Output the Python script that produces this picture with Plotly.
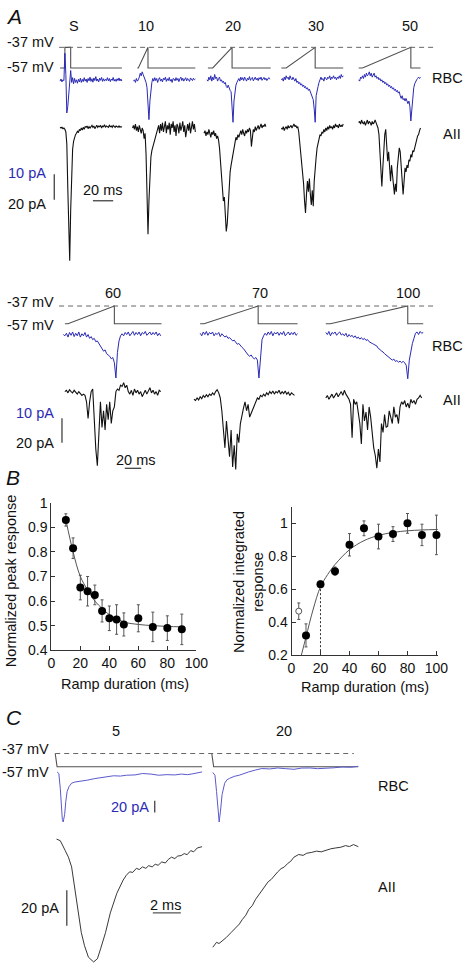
import plotly.graph_objects as go

W, H = 476, 972
FONT = "Liberation Sans, Arial, Helvetica, sans-serif"
BLUE = "#2a2ab4"
BLUE_C = "#5a5acd"
BLACK = "#111111"
CMD = "#505050"
AXC = "#333333"

# ======================= DATA =======================
# ---- Panel A, top row: ramp durations ----
A1_LABELS = ["S", "10", "20", "30", "50"]
DT1 = 1.0  # ms between samples in the top-row traces

cmd_S_t = [0, 5, 5, 11, 11, 64]
cmd_S_mv = [-57, -57, -37, -37, -57, -57]
cmd_10_t = [0, 1, 11, 11, 60]
cmd_10_mv = [-57, -57, -37, -57, -57]
cmd_20_t = [0, 5, 25, 25, 65]
cmd_20_mv = [-57, -57, -37, -57, -57]
cmd_30_t = [0, 5, 35, 35, 64]
cmd_30_mv = [-57, -57, -37, -57, -57]
cmd_50_t = [0, 4, 54, 54, 64]
cmd_50_mv = [-57, -57, -37, -57, -57]

rbc_S_t0 = 0
rbc_S = [-0.5, 0.3, -0.8, 0, -0.3, 10, 2, -12.5, -10, -4, 1, 3.5, -1, 0.8, -1.5, 0.5, -1, 0, -1.3, 0.2,
         -0.8, 0.6, -1, 0.2, -0.7, 0.8, -0.5, 0.3, -1, 0.5, -0.4, 1, -0.6, 0.4, -0.9, 0.7, -0.3, 1.2, -0.5, 0.3,
         -0.8, 0.6, -0.2, 0.9, -0.6, 0.4, -0.5, 0.2, -0.3, 0.8, -0.4, 0.5, -0.7, 0.3, -0.2, 0.9, -0.5, 0.2, -0.6, 0.4,
         -0.3, 0.7, -0.4, 0.3, -0.5]
aii_S_t0 = 0
aii_S = [0.5, 0, 0.5, -0.5, 0, -1, -3, -12, -45, -88, -100, -62, -30, -16, -10, -7, -5, -4, -2.5, -3.5,
         -1, -2, 0, -1.5, 0.5, -1, 1, 0.5, 1.5, -0.5, 1, 0, 1.5, 2, 0.5, 1.5, -0.5, 1, 2, 0.5,
         1.5, 1, 2, 0, 1.5, 1, 2.5, 0.5, 1.5, 1, 0.5, 2, 1, 1.5, 0.5, 2, 1, 0.5, 1.5, 1,
         0.5, 1.5, 0.5, 1, 0.5]

rbc_10_t0 = -4
rbc_10 = [-0.5, 0, -1, 0.5, -0.5, 0, 1, 2.5, 1.5, 3, 2, 1, 0, -1, -3, -8, -15, -8, -3, -1,
          0.5, -0.5, 0.8, -0.3, 0.5, -1, 0.2, 0.8, -0.5, 0.3, -0.8, 0.6, 0, 1, -0.6, 0.4, -0.3, 0.9, -0.5, 0.2,
          -1, 0.5, 0.3, -0.4, 0.8, -0.2, 0.5, -0.7, 0.4, 1, -0.3, 0.6, -0.5, 0.2, 0.8, -0.4, 0.5, 0, -0.6, 0.7,
          0.2, -0.3, 0.6, 0, 0.3]
aii_10_t0 = -5
aii_10 = [0, 2, -1, 3, -2, 1, -3, 2, -1, -4, 0, -2, -8, -4, -20, -60, -80, -55, -30, -22,
          -17, -14, -12, -9, -7, -3, -1, 2, -4, 3, -2, 4, -3, 1, 5, -4, 2, -1, 4, -5,
          3, 0, 5, -3, 2, -6, 3, 1, -4, 4, -2, 1, 5, -3, 2, -7, 0, 3, -2, 4,
          -4, 1, 5, -1, 3, -3]

rbc_20_t0 = -1
rbc_20 = [0, -0.5, 1, 0, 1.5, -0.5, 1, 0, 2, 0.5, 1, -0.5, 0.5, 1, -0.5, 0, -1, -0.5, -1.5, -1,
          -2.5, -3, -2, -3.5, -4, -4.5, -9, -16, -8, -4, -2, -1, 0, 0.5, -0.5, 1, 0, 0.8, -0.3, 1,
          0.2, -0.5, 0.6, 0, 1.2, -0.2, 0.5, 0.9, -0.4, 0.3, 1, 0, 0.6, -0.3, 0.8, 0.2, 1, -0.2, 0.5, 0.9,
          0, 0.6, -0.3, 0.4, 0.8, 0.2]
aii_20_t0 = -4
aii_20 = [-4, -2, -6, -3, -5, -1, -4, -7, -3, -5, -2, -6, -4, -8, -6, -9, -15, -25, -35, -45,
          -55, -52, -67, -78, -72, -58, -40, -33, -28, -24, -20, -14, -10, -7, -9, -5, -7, -4, -2, -5,
          -1, -4, -6, -2, -4, -1, -3, 0, -2, -14, -4, -1, -3, 1, -2, 0, 2, -1, 1, 3,
          0, 2, 1, 3, 1]

rbc_30_t0 = 0
rbc_30 = [0, 0.5, -0.5, 1, 0, 1.5, 0.5, 1, 0, 1.5, 0.5, 0, 1, 0, -0.5, 0.5, -1, -0.5, -1.5, -1,
          -2, -1.5, -2.5, -2, -3, -2.5, -3.5, -3, -4, -3.5, -4.5, -5, -6, -7.5, -11, -16, -6, -3.5, -2.5, -1,
          0, 1, 0, 0.5, -0.5, 1, 0.5, 0, 1, 0.5, 1.5, 0, 1, 0.5, 1.5, 0.5, 1, 0, 1, 0.5,
          1.5, 0.5, 2, 1, 1.5]
aii_30_t0 = 0
aii_30 = [0, -1, 1, -2, 0, 1, -1, 2, 0, 1, 2, 0, 2, 3, 1, 2, 0, 1, -3, -10,
          -18, -27, -30, -42, -55, -64, -50, -40, -48, -38, -50, -58, -47, -59, -40, -28, -22, -15, -12, -8,
          -5, -6, -3, -4, -1, -3, 0, -2, 1, -1, 2, 0, 1, -1, 2, 0, 3, 1, 2, 0,
          3, 1, 2, 1, 3]

rbc_50_t0 = 0
rbc_50 = [0, -0.5, 1, 0.5, 1.5, 0.5, 2, 1, 2.5, 1.5, 2, 3, 1.5, 2.5, 1, 2, 2.5, 1, 1.5, 0.5,
          1, 0, 0.5, -0.5, 0, -1, -0.5, -1.5, -1, -2, -1.5, -2.5, -2, -3, -2.5, -3.5, -3, -4, -3.5, -4.5,
          -4, -5, -4.5, -6, -7, -6, -7.5, -7, -8, -7, -8.5, -9, -8, -10, -15.5, -11, -6, -3, -1.5, -0.5,
          0, 0.5, 1, 0.5, 1]
aii_50_t0 = 0
aii_50 = [4, 5, 3, 6, 4, 3, 5, 2, 4, 6, 3, 5, 4, 2, 5, 3, 4, 6, 4, 2,
          0, -5, -20, -35, -44, -30, -15, -5, -1, -12, -25, -18, -30, -40, -28, -35, -45, -50, -42, -48,
          -30, -20, -15, -18, -30, -42, -50, -40, -30, -33, -28, -30, -24, -25, -20, -22, -17, -18, -14, -12,
          -9, -6, -5, -2, 0]

# ---- Panel A, second row ----
A2_LABELS = ["60", "70", "100"]
DT2 = 2.0  # ms between samples in the second-row traces

cmd_60_t = [0, 4, 64, 64, 125]
cmd_60_mv = [-57, -57, -37, -57, -57]
cmd_70_t = [0, 5, 75, 75, 126]
cmd_70_mv = [-57, -57, -37, -57, -57]
cmd_100_t = [0, 6, 106, 106, 126]
cmd_100_mv = [-57, -57, -37, -57, -57]

rbc_60_t0 = -2
rbc_60 = [0, -0.5, 0.5, -1, 0.8, -0.3, 1, -0.8, 0.5, -0.5, 1, -1, 0.3, -0.5, 0.8, -1, 0, -1.5, -0.8, -2,
          -1.5, -2.8, -2.5, -3.5, -4.5, -5.5, -6.5, -6, -7.5, -8, -8.5, -9.5, -9, -11, -17, -7, -2.5, -0.5, 0.3, -0.5,
          0.8, 0, 1, -0.5, 0.5, 1.2, -0.3, 0.8, 0, 1, -0.5, 0.8, 0.2, 1.2, -0.3, 0.5, 1, -0.2, 0.8, 0,
          1, -0.5, 0.5, -0.5]
aii_60_t0 = 0
aii_60 = [0, 1, -1, 1.5, 0, -1, 1, -0.5, -2, 0, -1.5, -3, -2, -3, -8, -21, -8, 0, 2, -25,
          -45, -58, -30, -8, -28, -15, -30, -10, -22, -8, -25, -15, -12, 0, 2, 1, 5, 4, 7, 3,
          5, 0, -2, 1, -3, 2, -1, 1, -2, 0, -4, -1, 1, -2, 0, 3, -1, 1, -2, 0,
          -3, 1, 0]

rbc_70_t0 = 0
rbc_70 = [0.5, -0.5, 1, 0, 1.2, -0.3, 0.8, 0.2, 1, -0.5, 0.5, 0, 0.8, -0.8, 0.3, -0.5, -1, -0.5, -1.5, -1.2,
          -2, -2.5, -2.2, -3, -3.8, -3.5, -4.5, -5, -5.5, -6.5, -7, -8, -8.5, -8, -9, -9.5, -9, -10, -17, -8,
          -2, -0.5, 0.5, -0.3, 1, 0, 1.2, -0.5, 0.8, 0.2, 1, -0.3, 0.8, 0, 1.2, -0.5, 0.5, 1, -0.2, 0.8,
          0, 1, -0.3, 0.3]
aii_70_t0 = -8
aii_70 = [-6, -7, -5, -6.5, -4, -5.5, -3, -4.5, -2.5, -4, -2, -3, -1, -2.5, 0, 1.5, -1, -5, -15, -28,
          -44, -23, -40, -51, -30, -59, -42, -61, -33, -40, -25, -18, -13, -8, -15, -10, -20, -17, -14, -10,
          -8, -5, -6, -3, -4, -2, -3.5, -1, -2.5, 0, -1.5, 0.5, -2, 0, -1, 1, -2, 0, -1.5, 0.5,
          -2, -0.5, -3, -1, -2, -3]

rbc_100_t0 = 0
rbc_100 = [0.8, 0, 1.2, -0.5, 0.8, 0.3, 1, -0.3, 0.5, 1, -0.2, 0.3, -0.5, 0.5, -1, 0, -0.8, -0.3, -1.2, -0.5,
           -1.5, -1, -1.8, -1.2, -2, -1.5, -2.3, -2, -2.8, -3, -3.5, -3.8, -4.2, -4.5, -5.5, -5.8, -6.5, -6.8, -7.5, -8,
           -8.2, -9, -9.5, -10, -9.6, -10.5, -10.2, -10.8, -10.4, -11, -10.5, -11, -12, -17.3, -10, -6.5, -3.5, -1.5, 0.5, 1,
           0, 1.2, 0.5, 0.8]
aii_100_t0 = 0
aii_100 = [-5, -3, -6, -4, -2, -5, -3, -1, -4, -2, 0, -3, 1, -2, -4, -6, -10, -36, -6, -10,
           -8, -15, -25, -41, -10, -23, -16, -30, -12, -20, -35, -44, -50, -60, -45, -55, -25, -32, -18, -28,
           -27, -15, -20, -25, -12, -20, -18, -25, -12, -8, -10, -7, -12, -9, -13, -6, -9, -7, -10, -6,
           -5, -3, -5]

# ---- Panel B ----
dur_peak = [10, 15, 20, 25, 30, 35, 40, 45, 50, 60, 70, 80, 90]
peak_mean = [0.93, 0.815, 0.655, 0.64, 0.625, 0.56, 0.53, 0.525, 0.505, 0.53, 0.495, 0.49, 0.485]
peak_err = [0.025, 0.042, 0.05, 0.06, 0.04, 0.045, 0.05, 0.06, 0.047, 0.055, 0.06, 0.05, 0.062]
peak_fit_x = [10, 15, 20, 25, 30, 35, 40, 50, 60, 70, 80, 90]
peak_fit_y = [0.93, 0.80, 0.70, 0.645, 0.60, 0.57, 0.545, 0.515, 0.505, 0.50, 0.497, 0.495]

dur_int = [10, 20, 30, 40, 50, 60, 70, 80, 90, 100]
int_mean = [0.32, 0.63, 0.71, 0.87, 0.97, 0.92, 0.935, 1.0, 0.93, 0.93]
int_err = [0.07, 0.02, 0.025, 0.068, 0.045, 0.075, 0.045, 0.06, 0.065, 0.12]
step_dur = [5]
step_mean = [0.467]
step_err = [0.05]
int_fit_x = [6.8, 10, 15, 20, 25, 30, 40, 50, 60, 70, 80, 90, 101]
int_fit_y = [0.2, 0.31, 0.48, 0.615, 0.69, 0.75, 0.84, 0.895, 0.927, 0.945, 0.955, 0.96, 0.963]
half_dur = 20
half_val = 0.615

# ---- Panel C ----
C_LABELS = ["5", "20"]
cmd_C5_t = [0, 0.13, 10.13]
cmd_C5_mv = [-37, -57, -57]
cmd_C20_t = [0, 0.13, 10.1]
cmd_C20_mv = [-37, -57, -57]

tC5_rbc = [0.13, 0.25, 0.35, 0.42, 0.49, 0.55, 0.65, 0.73, 0.82, 0.95, 1.13, 1.35, 1.58, 1.9, 2.25, 2.7,
           3.13, 3.6, 4.02, 4.5, 4.91, 5.5, 6.02, 6.6, 7.13, 7.7, 8.25, 8.7, 9.13, 9.5, 9.8, 10.13]
rbc_C5 = [-1.2, -4, -30, -58.6, -84.5, -89, -76, -53, -35.7, -27, -21, -19, -18.4, -17, -15.5, -13,
          -11.5, -10, -8, -8.5, -7, -6.5, -4, -5, -7, -6, -6.5, -5, -6, -4.5, -3, -1.2]
tC20_rbc = [0.07, 0.22, 0.33, 0.42, 0.51, 0.6, 0.71, 0.89, 1.05, 1.22, 1.55, 1.89, 2.2, 2.55,
            3.0, 3.45, 4.0, 4.55, 5.1, 5.67, 6.2, 6.78, 7.3, 7.89, 8.4, 9.0, 9.6, 10.11]
rbc_C20 = [-2.2, -7, -35.7, -64, -89, -70, -41, -21, -15, -12.6, -9, -7, -4, -1.2,
           2, 4.7, 4, 5.7, 4.5, 3.4, 5.5, 5.7, 4.5, 4.7, 6, 7.4, 7, 8.6]
tC5_aii = [0.09, 0.35, 0.69, 0.91, 1.13, 1.36, 1.58, 1.8, 2.02, 2.29, 2.65, 2.91, 3.13, 3.47, 3.8, 4.25,
           4.69, 4.9, 5.13, 5.35, 5.6, 5.8, 6.02, 6.25, 6.45, 6.69, 6.9, 7.1, 7.35, 7.6, 7.8, 8.02,
           8.25, 8.45, 8.69, 8.9, 9.1, 9.35, 9.55, 9.8, 10.13]
aii_C5 = [0, -0.9, -6.5, -10.2, -15.7, -28.7, -41.7, -52.8, -60.2, -66.7, -69.4, -67.6, -62, -52.8, -41.7, -30.6,
          -23.1, -20.5, -18.5, -18.8, -16.5, -17.2, -15.7, -16.5, -15, -15.7, -14.2, -14.8, -12.9, -13.5, -11.5, -10.2,
          -11, -9.6, -9.3, -8.2, -8.8, -6.5, -7.2, -5, -4.3]
tC20_aii = [0.07, 0.33, 0.5, 0.67, 1, 1.33, 1.67, 1.9, 2.11, 2.35, 2.55, 2.8, 3, 3.2, 3.45, 3.7, 3.89,
            4.1, 4.33, 4.55, 4.78, 5, 5.22, 5.45, 5.67, 6, 6.3, 6.55, 6.9, 7.22, 7.55, 7.89, 8.2, 8.55,
            8.9, 9.22, 9.5, 9.78, 10.11]
aii_C20 = [-61.1, -58.3, -59, -58, -55.6, -52.8, -50, -48, -45.4, -43, -39.8, -37.5, -34.3, -32, -28.7, -26.5, -24.1,
           -22.8, -20.4, -18.5, -16.7, -15.8, -13.9, -12.5, -10.2, -8.7, -9.2, -8, -7.5, -6.8, -7.2, -6.1, -5.5, -5,
           -4.6, -3.7, -4.2, -3.1, -4.3]

# ======================= FIGURE =======================
layout = dict(width=W, height=H, margin=dict(l=0, r=0, t=0, b=0, pad=0),
              paper_bgcolor="white", plot_bgcolor="rgba(0,0,0,0)",
              showlegend=False, hovermode=False, font=dict(family=FONT, color=BLACK))
traces, shapes, annotations = [], [], []
count = {"x": 0, "y": 0}


def _new(kind):
    count[kind] += 1
    n = count[kind]
    key = f"{kind}axis" if n == 1 else f"{kind}axis{n}"
    ref = kind if n == 1 else f"{kind}{n}"
    return key, ref


def add_x(px0, scale, lo, hi, **kw):
    key, ref = _new("x")
    d = dict(domain=[(px0 + lo * scale) / W, (px0 + hi * scale) / W], range=[lo, hi],
             visible=False, fixedrange=True)
    d.update(kw)
    layout[key] = d
    return ref


def add_y(py_ref, v_ref, k, lo, hi, **kw):
    key, ref = _new("y")
    top = py_ref - (hi - v_ref) * k
    bot = py_ref - (lo - v_ref) * k
    d = dict(domain=[1 - bot / H, 1 - top / H], range=[lo, hi], visible=False, fixedrange=True)
    d.update(kw)
    layout[key] = d
    return ref


def line(x, y, xr, yr, color, width=1.0, dash=None):
    traces.append(go.Scatter(x=x, y=y, xaxis=xr, yaxis=yr, mode="lines",
                             line=dict(color=color, width=width, dash=dash), hoverinfo="skip"))


def sampled(t0, dt, vals):
    return [t0 + i * dt for i in range(len(vals))]


def text(s, x, y, size=14.5, color=BLACK, xanchor="center", angle=0):
    annotations.append(dict(text=s, x=x / W, y=1 - y / H, xref="paper", yref="paper", showarrow=False,
                            xanchor=xanchor, yanchor="middle", textangle=angle, borderpad=0,
                            font=dict(family=FONT, size=size, color=color)))


def bar(x0, y0, x1, y1, color=AXC, width=1.2):
    shapes.append(dict(type="line", xref="paper", yref="paper", x0=x0 / W, x1=x1 / W,
                       y0=1 - y0 / H, y1=1 - y1 / H, line=dict(color=color, width=width)))


def dashed_level(yref, level, px0, px1):
    shapes.append(dict(type="line", xref="paper", yref=yref, x0=px0 / W, x1=px1 / W, y0=level, y1=level,
                       line=dict(color="#666666", width=1, dash="5px,4px")))


# ---------- Panel A, row 1 ----------
yV1 = add_y(61, -57, 1.05, -60, -34)
yR1 = add_y(73, 0, 2.7, -18, 12)
yA1 = add_y(122, 0, 1.35, -110, 10)
row1 = [
    (58, cmd_S_t, cmd_S_mv, rbc_S_t0, rbc_S, aii_S_t0, aii_S),
    (138, cmd_10_t, cmd_10_mv, rbc_10_t0, rbc_10, aii_10_t0, aii_10),
    (211, cmd_20_t, cmd_20_mv, rbc_20_t0, rbc_20, aii_20_t0, aii_20),
    (287, cmd_30_t, cmd_30_mv, rbc_30_t0, rbc_30, aii_30_t0, aii_30),
    (367, cmd_50_t, cmd_50_mv, rbc_50_t0, rbc_50, aii_50_t0, aii_50),
]
for px0, ct, cv, rt0, rv, at0, av in row1:
    xr = add_x(px0, 1.0, -6, 68)
    line(ct, cv, xr, yV1, CMD, 1.1)
    line(sampled(rt0, DT1, rv), rv, xr, yR1, BLUE, 1.0)
    line(sampled(at0, DT1, av), av, xr, yA1, BLACK, 1.1)
dashed_level(yV1, -37, 57, 446)

for lab, cx in zip(A1_LABELS, [72, 147, 237, 323, 420]):
    text(lab, cx, 18)
text("<i>A</i>", 1, 9, size=21, xanchor="left")
text("-37 mV", 53, 35, xanchor="right")
text("-57 mV", 53, 60, xanchor="right")
text("RBC", 475.5, 71.5, xanchor="right")
text("AII", 474, 128, xanchor="right")
text("10 pA", 45, 168, color=BLUE, xanchor="right")
text("20 pA", 45, 199, xanchor="right")
bar(52, 169, 52, 195)
text("20 ms", 102, 185)
bar(92, 196, 113, 196)

# ---------- Panel A, row 2 ----------
yV2 = add_y(321, -57, 0.9, -60, -34)
yR2 = add_y(332, 0, 2.6, -19, 6)
yA2 = add_y(390, 0, 1.3, -65, 10)
row2 = [
    (63, cmd_60_t, cmd_60_mv, rbc_60_t0, rbc_60, aii_60_t0, aii_60),
    (203, cmd_70_t, cmd_70_mv, rbc_70_t0, rbc_70, aii_70_t0, aii_70),
    (333, cmd_100_t, cmd_100_mv, rbc_100_t0, rbc_100, aii_100_t0, aii_100),
]
for px0, ct, cv, rt0, rv, at0, av in row2:
    xr = add_x(px0, 0.8, -10, 128)
    line(ct, cv, xr, yV2, CMD, 1.1)
    line(sampled(rt0, DT2, rv), rv, xr, yR2, BLUE, 1.0)
    line(sampled(at0, DT2, av), av, xr, yA2, BLACK, 1.1)
dashed_level(yV2, -37, 57, 446)

for lab, cx in zip(A2_LABELS, [113, 264.5, 418]):
    text(lab, cx, 290)
text("-37 mV", 53, 298.5, xanchor="right")
text("-57 mV", 53, 322, xanchor="right")
text("RBC", 475.5, 343.5, xanchor="right")
text("AII", 474, 399, xanchor="right")
text("10 pA", 53, 411.5, color=BLUE, xanchor="right")
text("20 pA", 53, 442.5, xanchor="right")
bar(60, 417, 60, 442)
text("20 ms", 137, 460)
bar(125, 468, 142, 468)

# ---------- Panel B ----------
axis_style = dict(visible=True, showline=True, linecolor=AXC, linewidth=1, ticks="inside", ticklen=4,
                  tickcolor=AXC, showgrid=False, zeroline=False,
                  tickfont=dict(family=FONT, size=14, color=BLACK))
yBL_key_n = count["y"] + 1
xBL = add_x(49, 1.5, 0, 100, **axis_style, anchor=f"y{yBL_key_n}",
            tickvals=[0, 20, 40, 60, 80, 100])
yBL = add_y(653, 0.4, 250, 0.4, 1.0, **axis_style, anchor=xBL,
            tickvals=[0.4, 0.5, 0.6, 0.7, 0.8, 0.9, 1.0],
            ticktext=["0.4", "0.5", "0.6", "0.7", "0.8", "0.9", "1"])
traces.append(go.Scatter(x=peak_fit_x, y=peak_fit_y, xaxis=xBL, yaxis=yBL, mode="lines",
                         line=dict(color="#555555", width=1, shape="spline"), hoverinfo="skip"))
traces.append(go.Scatter(x=dur_peak, y=peak_mean, xaxis=xBL, yaxis=yBL, mode="markers",
                         marker=dict(color="black", size=8),
                         error_y=dict(type="data", array=peak_err, color="#555555", thickness=1, width=1.5),
                         hoverinfo="skip", cliponaxis=False))

yBR_key_n = count["y"] + 1
xBR = add_x(297.5, 1.5, 0, 101, **axis_style, anchor=f"y{yBR_key_n}",
            tickvals=[0, 20, 40, 60, 80, 100])
yBR = add_y(658, 0.2, 167.5, 0.2, 1.1, **axis_style, anchor=xBR,
            tickvals=[0.2, 0.4, 0.6, 0.8, 1.0], ticktext=["0.2", "0.4", "0.6", "0.8", "1"])
traces.append(go.Scatter(x=int_fit_x, y=int_fit_y, xaxis=xBR, yaxis=yBR, mode="lines",
                         line=dict(color="#555555", width=1, shape="spline"), hoverinfo="skip"))
traces.append(go.Scatter(x=[half_dur, half_dur], y=[0.2, half_val], xaxis=xBR, yaxis=yBR, mode="lines",
                         line=dict(color="#333333", width=1, dash="2px,2px"), hoverinfo="skip"))
traces.append(go.Scatter(x=step_dur, y=step_mean, xaxis=xBR, yaxis=yBR, mode="markers",
                         marker=dict(color="white", size=6, line=dict(color="#555555", width=1)),
                         error_y=dict(type="data", array=step_err, color="#555555", thickness=1, width=1.5),
                         hoverinfo="skip", cliponaxis=False))
traces.append(go.Scatter(x=dur_int, y=int_mean, xaxis=xBR, yaxis=yBR, mode="markers",
                         marker=dict(color="black", size=8),
                         error_y=dict(type="data", array=int_err, color="#555555", thickness=1, width=1.5),
                         hoverinfo="skip", cliponaxis=False))

text("<i>B</i>", 1, 477, size=21, xanchor="left")
text("Normalized peak response", 8, 583, size=14.5, angle=-90)
text("Ramp duration (ms)", 125.5, 687, size=14.5)
text("Normalized integrated<br>response", 253, 583, size=14.5, angle=-90)
text("Ramp duration (ms)", 373.5, 690.5, size=14.5)

# ---------- Panel C ----------
yVC = add_y(771.5, -57, 0.675, -60, -34)
yRC = add_y(776, 0, 0.58, -95, 12)
yAC = add_y(845, 0, 1.8, -70, 6)
panelC = [
    (53, cmd_C5_t, cmd_C5_mv, tC5_rbc, rbc_C5, tC5_aii, aii_C5),
    (215, cmd_C20_t, cmd_C20_mv, tC20_rbc, rbc_C20, tC20_aii, aii_C20),
]
for px0, ct, cv, rt, rv, at, av in panelC:
    xr = add_x(px0, 15.0, -0.3, 10.4)
    line(ct, cv, xr, yVC, CMD, 1.1)
    line(rt, rv, xr, yRC, BLUE_C, 1.0)
    line(at, av, xr, yAC, "#222222", 0.9)
dashed_level(yVC, -37, 53, 362)

for lab, cx in zip(C_LABELS, [115.5, 290]):
    text(lab, cx, 735)
text("<i>C</i>", 1, 721, size=21, xanchor="left")
text("-37 mV", 48, 753.5, xanchor="right")
text("-57 mV", 48, 777, xanchor="right")
text("RBC", 386, 791.5, xanchor="left")
text("AII", 386, 893.5, xanchor="left")
text("20 pA", 151, 812.5, color=BLUE, xanchor="right")
bar(156, 806, 156, 818)
text("20 pA", 58, 915, xanchor="right")
bar(65, 897, 65, 933)
text("2 ms", 167.5, 912)
bar(154, 920, 183, 920, color="#666666", width=1.4)

layout["shapes"] = shapes
layout["annotations"] = annotations
fig = go.Figure(data=traces, layout=layout)
fig.write_html("out.html", config={"displayModeBar": False, "staticPlot": True},
               post_script="document.body.style.margin='0';document.body.style.overflow='hidden';")
